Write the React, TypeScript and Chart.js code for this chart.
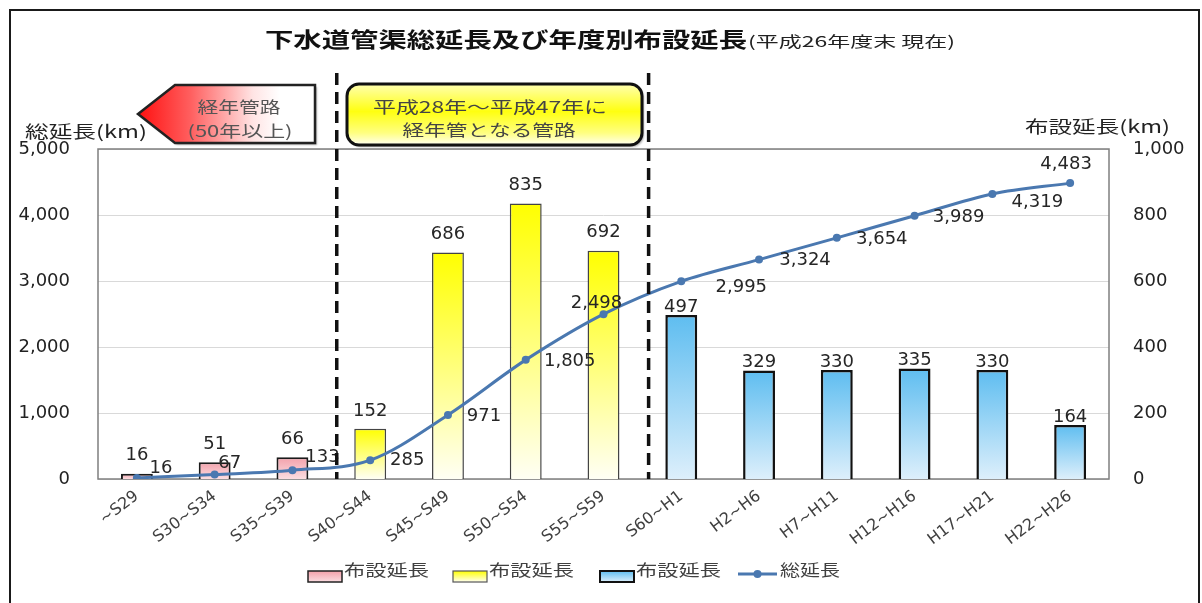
import React, { useEffect, useRef } from "react";
import { Chart, registerables } from "chart.js";

Chart.register(...registerables);

// ---------- data ----------
const categories = [
  "~S29", "S30~S34", "S35~S39", "S40~S44", "S45~S49", "S50~S54", "S55~S59",
  "S60~H1", "H2~H6", "H7~H11", "H12~H16", "H17~H21", "H22~H26",
];
// 布設延長 (km) — aged pipes (50+ years)
const layingAged = [16, 51, 66, null, null, null, null, null, null, null, null, null, null];
// 布設延長 (km) — become aged between H28 and H47
const layingSoonAged = [null, null, null, 152, 686, 835, 692, null, null, null, null, null, null];
// 布設延長 (km) — recent
const layingRecent = [null, null, null, null, null, null, null, 497, 329, 330, 335, 330, 164];
// 総延長 (km)
const totalLength = [16, 67, 133, 285, 971, 1805, 2498, 2995, 3324, 3654, 3989, 4319, 4483];

const titleMain = "下水道管渠総延長及び年度別布設延長";
const titleSub = "(平成26年度末 現在)";
const leftAxisTitle = "総延長(km)";
const rightAxisTitle = "布設延長(km)";
const arrowLines = ["経年管路", "(50年以上)"];
const boxLines = ["平成28年～平成47年に", "経年管となる管路"];
const barLegendLabel = "布設延長";
const lineLegendLabel = "総延長";

// ---------- styles ----------
const CJK = '"Noto Sans CJK JP", "Noto Sans", sans-serif';
const NUM = '"DejaVu Sans", "Noto Sans CJK JP", sans-serif';
const LINE_COLOR = "#4A78B0";
const PINK = ["#F3A0AA", "#FBDDE1"];
const YELLOW = ["#FFFF00", "#FFFFF4"];
const BLUE = ["#5EBDF0", "#DDEFFB"];
// label centre offsets [dx, dy] relative to each line point
const lineLabelOffsets: [number, number][] = [
  [24, -10], [15, -11], [30, -13], [37, 0], [36, 1], [44, 1], [-7, -11],
  [60, 6], [46, 1], [45, 1], [44, 2], [45, 8], [-4, -19],
];

function barGradient(colors: string[]) {
  return (c: any) => {
    const chart = c.chart;
    const v = c.raw;
    const sc = chart.scales && chart.scales.y1;
    if (v == null || !sc) return colors[0];
    const yTop = sc.getPixelForValue(v);
    const yBot = sc.getPixelForValue(0);
    if (!isFinite(yTop) || !isFinite(yBot) || yTop === yBot) return colors[0];
    const g = chart.ctx.createLinearGradient(0, yTop, 0, yBot);
    g.addColorStop(0, colors[0]);
    g.addColorStop(1, colors[1]);
    return g;
  };
}

function stretchText(
  ctx: CanvasRenderingContext2D,
  text: string,
  x: number,
  y: number,
  width: number,
  font: string,
  color: string,
  align: "left" | "center" = "left"
) {
  ctx.save();
  ctx.font = font;
  ctx.fillStyle = color;
  ctx.textBaseline = "middle";
  ctx.textAlign = "left";
  const w = ctx.measureText(text).width;
  const sx = width / w;
  const left = align === "center" ? x - width / 2 : x;
  ctx.translate(left, y);
  ctx.scale(sx, 1);
  ctx.fillText(text, 0, 0);
  ctx.restore();
}

const plotBorderPlugin = {
  id: "plotBorder",
  beforeDatasetsDraw(chart: any) {
    const { ctx, chartArea: a } = chart;
    ctx.save();
    ctx.strokeStyle = "#7F7F7F";
    ctx.lineWidth = 1.5;
    ctx.strokeRect(a.left, a.top, a.right - a.left, a.bottom - a.top);
    ctx.restore();
  },
};

const dataLabelPlugin = {
  id: "dataLabels",
  afterDatasetsDraw(chart: any) {
    const ctx: CanvasRenderingContext2D = chart.ctx;
    ctx.save();
    ctx.font = `18px ${NUM}`;
    ctx.fillStyle = "#262626";
    ctx.textAlign = "center";
    ctx.textBaseline = "middle";
    chart.data.datasets.forEach((ds: any, di: number) => {
      const meta = chart.getDatasetMeta(di);
      meta.data.forEach((el: any, i: number) => {
        const v = ds.data[i];
        if (v == null) return;
        const txt = Number(v).toLocaleString("en-US");
        if (ds.type === "line") {
          const [dx, dy] = lineLabelOffsets[i] || [30, 0];
          ctx.fillText(txt, el.x + dx, el.y + dy);
        } else {
          const off = ds.labelOffset ?? 18;
          ctx.fillText(txt, el.x, el.y - off);
        }
      });
    });
    ctx.restore();
  },
};

const decorPlugin = {
  id: "decor",
  afterDraw(chart: any) {
    const ctx: CanvasRenderingContext2D = chart.ctx;
    const a = chart.chartArea;
    const xs = chart.scales.x;

    // outer frame
    ctx.save();
    ctx.strokeStyle = "#1a1a1a";
    ctx.lineWidth = 2;
    ctx.strokeRect(10, 10, 1189, 620);
    ctx.restore();

    // title
    stretchText(ctx, titleMain, 265, 39, 482, `bold 21px ${CJK}`, "#111");
    stretchText(ctx, titleSub, 748, 41, 207, `15px ${CJK}`, "#222");

    // axis titles
    stretchText(ctx, leftAxisTitle, 25, 132, 122, `17px ${CJK}`, "#222");
    stretchText(ctx, rightAxisTitle, 1025, 127, 145, `17px ${CJK}`, "#222");

    // dashed separators
    ctx.save();
    ctx.strokeStyle = "#111";
    ctx.lineWidth = 3.5;
    ctx.setLineDash([12, 7]);
    [2.57, 6.58].forEach((v) => {
      const x = xs.getPixelForValue(v);
      ctx.beginPath();
      ctx.moveTo(x, 73);
      ctx.lineTo(x, a.bottom);
      ctx.stroke();
    });
    ctx.restore();

    // red arrow box
    ctx.save();
    const rg = ctx.createLinearGradient(138, 0, 315, 0);
    rg.addColorStop(0, "#FF1010");
    rg.addColorStop(0.3, "#FF6060");
    rg.addColorStop(0.65, "#FFE4E4");
    rg.addColorStop(0.8, "#FFFFFF");
    rg.addColorStop(1, "#FFFFFF");
    ctx.beginPath();
    ctx.moveTo(138, 114);
    ctx.lineTo(175, 85);
    ctx.lineTo(315, 85);
    ctx.lineTo(315, 143);
    ctx.lineTo(175, 143);
    ctx.closePath();
    ctx.shadowColor = "rgba(0,0,0,0.3)";
    ctx.shadowOffsetX = 2;
    ctx.shadowOffsetY = 2;
    ctx.shadowBlur = 2;
    ctx.fillStyle = rg;
    ctx.fill();
    ctx.shadowColor = "transparent";
    ctx.strokeStyle = "#222";
    ctx.lineWidth = 2.5;
    ctx.stroke();
    ctx.restore();
    stretchText(ctx, arrowLines[0], 239, 107, 83, `16px ${CJK}`, "#555", "center");
    stretchText(ctx, arrowLines[1], 240, 131, 105, `16px ${CJK}`, "#555", "center");

    // yellow rounded box
    ctx.save();
    const yg = ctx.createLinearGradient(0, 84, 0, 145);
    yg.addColorStop(0, "#FFFFB0");
    yg.addColorStop(0.45, "#FFFF10");
    yg.addColorStop(0.8, "#FFFF80");
    yg.addColorStop(1, "#FFFFF0");
    ctx.beginPath();
    (ctx as any).roundRect(347, 84, 295, 61, 12);
    ctx.shadowColor = "rgba(0,0,0,0.3)";
    ctx.shadowOffsetX = 2;
    ctx.shadowOffsetY = 2;
    ctx.shadowBlur = 2;
    ctx.fillStyle = yg;
    ctx.fill();
    ctx.shadowColor = "transparent";
    ctx.strokeStyle = "#111";
    ctx.lineWidth = 3;
    ctx.stroke();
    ctx.restore();
    stretchText(ctx, boxLines[0], 490, 107, 234, `16px ${CJK}`, "#444", "center");
    stretchText(ctx, boxLines[1], 489, 130, 173, `16px ${CJK}`, "#444", "center");

    // legend
    const legendBoxes = [
      { x: 308, fill: PINK, stroke: "#222", lw: 1.5 },
      { x: 453, fill: YELLOW, stroke: "#555", lw: 1.2 },
      { x: 600, fill: BLUE, stroke: "#111", lw: 2 },
    ];
    legendBoxes.forEach((b) => {
      ctx.save();
      const g = ctx.createLinearGradient(0, 571, 0, 582);
      g.addColorStop(0, b.fill[0]);
      g.addColorStop(1, b.fill[1]);
      ctx.fillStyle = g;
      ctx.fillRect(b.x, 571, 34, 11);
      ctx.strokeStyle = b.stroke;
      ctx.lineWidth = b.lw;
      ctx.strokeRect(b.x, 571, 34, 11);
      ctx.restore();
      stretchText(ctx, barLegendLabel, b.x + 36, 570, 85, `16px ${CJK}`, "#404040");
    });
    ctx.save();
    ctx.strokeStyle = LINE_COLOR;
    ctx.lineWidth = 3;
    ctx.beginPath();
    ctx.moveTo(738, 574);
    ctx.lineTo(777, 574);
    ctx.stroke();
    ctx.fillStyle = LINE_COLOR;
    ctx.beginPath();
    ctx.arc(757.5, 574, 4, 0, Math.PI * 2);
    ctx.fill();
    ctx.restore();
    stretchText(ctx, lineLegendLabel, 780, 570, 60, `16px ${CJK}`, "#404040");
  },
};

export default function App() {
  const canvasRef = useRef<HTMLCanvasElement | null>(null);

  useEffect(() => {
    if (!canvasRef.current) return;
    const tickFont = { family: NUM, size: 18 };
    const fmt = (v: any) => Number(v).toLocaleString("en-US");
    const barCommon = {
      type: "bar" as const,
      label: barLegendLabel,
      yAxisID: "y1",
      grouped: false,
      barPercentage: 0.41,
      categoryPercentage: 1,
      order: 1,
    };
    const chart = new Chart(canvasRef.current, {
      type: "bar",
      data: {
        labels: categories,
        datasets: [
          {
            type: "line",
            label: lineLegendLabel,
            data: totalLength,
            yAxisID: "y",
            borderColor: LINE_COLOR,
            backgroundColor: LINE_COLOR,
            borderWidth: 3,
            pointRadius: 4,
            pointHoverRadius: 4,
            pointBorderWidth: 0,
            cubicInterpolationMode: "monotone",
            order: 0,
          } as any,
          {
            ...barCommon,
            data: layingAged,
            backgroundColor: barGradient(PINK),
            borderColor: "#1a1a1a",
            borderWidth: 2,
            labelOffset: 18,
          } as any,
          {
            ...barCommon,
            data: layingSoonAged,
            backgroundColor: barGradient(YELLOW),
            borderColor: "#444",
            borderWidth: 1.5,
            labelOffset: 18,
          } as any,
          {
            ...barCommon,
            data: layingRecent,
            backgroundColor: barGradient(BLUE),
            borderColor: "#111",
            borderWidth: 2.5,
            labelOffset: 8,
          } as any,
        ],
      },
      options: {
        responsive: false,
        animation: false,
        devicePixelRatio: 1,
        layout: { padding: { top: 149, bottom: 34, left: 0, right: 0 } },
        plugins: {
          legend: { display: false },
          tooltip: { enabled: false },
          title: { display: false },
        },
        scales: {
          x: {
            type: "category",
            offset: true,
            grid: { display: false, drawTicks: false },
            border: { display: false },
            ticks: {
              autoSkip: false,
              minRotation: 37,
              maxRotation: 37,
              padding: 8,
              color: "#404040",
              font: { family: NUM, size: 16 },
            },
            afterFit: (s: any) => {
              s.height = 90;
            },
          },
          y: {
            position: "left",
            min: 0,
            max: 5000,
            ticks: {
              stepSize: 1000,
              padding: 28,
              color: "#222",
              font: tickFont,
              callback: fmt,
            },
            grid: { color: "#D9D9D9", lineWidth: 1, drawTicks: false },
            border: { display: false },
            afterFit: (s: any) => {
              s.width = 98;
            },
          },
          y1: {
            position: "right",
            min: 0,
            max: 1000,
            ticks: {
              stepSize: 200,
              padding: 24,
              color: "#222",
              font: tickFont,
              callback: fmt,
            },
            grid: { display: false, drawTicks: false },
            border: { display: false },
            afterFit: (s: any) => {
              s.width = 93;
            },
          },
        },
      } as any,
      plugins: [plotBorderPlugin, dataLabelPlugin, decorPlugin],
    });
    return () => chart.destroy();
  }, []);

  return (
    <div style={{ position: "absolute", left: 0, top: 0, width: 1202, height: 603, background: "#fff" }}>
      <canvas ref={canvasRef} width={1202} height={603} style={{ display: "block", width: 1202, height: 603 }} />
    </div>
  );
}
